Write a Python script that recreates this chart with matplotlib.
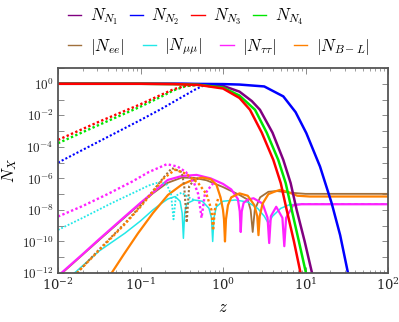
import numpy as np
import matplotlib
matplotlib.use("Agg")
import matplotlib.pyplot as plt
from matplotlib.lines import Line2D
from matplotlib.ticker import LogLocator, FuncFormatter, NullFormatter

plt.rcParams['mathtext.fontset'] = 'cm'
plt.rcParams['font.family'] = 'serif'
plt.rcParams['font.serif'] = ['DejaVu Serif']

# values, stored as log10(z), log10(N)
# heavy neutrino abundances, thermal initial abundance (solid)
n1_lz = [-2, -1, -0.5, -0.2, 0.0, 0.2, 0.35, 0.448, 0.6, 0.731, 0.82, 0.893, 0.99, 1.079]
n1_lN = [0, 0, -0.01, -0.05, -0.13, -0.5, -1.1, -1.65, -3.1, -4.83, -6.3, -8.0, -10.0, -12.0]
n2_lz = [-2, -0.5, 0.0, 0.2, 0.5, 0.731, 0.88, 1.01, 1.176, 1.317, 1.42, 1.515]
n2_lN = [0, 0, -0.02, -0.05, -0.17, -0.8, -1.8, -3.13, -5.25, -7.57, -9.6, -12.0]
n3_lz = [-2, -1, -0.6, -0.3, 0.0, 0.2, 0.327, 0.47, 0.61, 0.7, 0.772, 0.86, 0.94]
n3_lN = [0, 0, -0.02, -0.07, -0.3, -0.9, -1.65, -3.1, -4.83, -6.3, -8.0, -10.0, -12.0]
n4_lz = [-2, -1, -0.6, -0.3, 0.0, 0.2, 0.388, 0.53, 0.67, 0.76, 0.833, 0.92, 1.006]
n4_lN = [0, 0, -0.02, -0.06, -0.24, -0.75, -1.65, -3.1, -4.83, -6.3, -8.0, -10.0, -12.0]

# heavy neutrino abundances, zero initial abundance (dotted)
n3d_lz = [-2, -1.5, -1, -0.75, -0.6, -0.45, -0.3, -0.15]
n3d_lN = [-3.56, -2.4, -1.3, -0.7, -0.35, -0.12, -0.08, -0.15]
n4d_lz = [-2, -1.5, -1, -0.75, -0.6, -0.45, -0.3, -0.15]
n4d_lN = [-3.77, -2.6, -1.45, -0.82, -0.42, -0.15, -0.07, -0.13]
n2d_lz = [-2, -1.5, -1, -0.75, -0.5, -0.35, -0.24, -0.1, 0.0]
n2d_lN = [-5.0, -3.65, -2.3, -1.6, -0.85, -0.4, -0.12, -0.03, -0.02]

# flavour asymmetries, solid
ee_lz = [-1.96, -1.5, -1.19, -1.0, -0.85, -0.68, -0.5, -0.35, -0.2, 0.0, 0.2, 0.3, 0.335,
         0.36, 0.385, 0.45, 0.55, 0.65, 0.8, 1.0, 2.0]
ee_lN = [-12.05, -9.9, -8.47, -7.6, -6.95, -6.3, -5.95, -5.97, -6.12, -6.55, -7.05, -7.35, -8.0,
         -9.4, -8.0, -7.2, -6.85, -6.8, -6.9, -6.98, -6.98]
mm_lz = [-1.8, -1.5, -1.19, -1.0, -0.85, -0.75, -0.667, -0.58, -0.52, -0.495, -0.48, -0.465,
         -0.44, -0.35, -0.25, -0.17, -0.14, -0.125, -0.11, -0.08, 0.0, 0.15, 0.3, 0.42, 0.5,
         0.55, 0.6, 0.7, 0.8, 0.9, 2.0]
mm_lN = [-12.0, -10.6, -9.48, -8.7, -8.0, -7.6, -7.3, -7.15, -7.45, -8.2, -9.8, -8.2,
         -7.6, -7.37, -7.45, -7.9, -8.5, -10.0, -8.5, -7.8, -7.45, -7.37, -7.5, -7.9, -8.4,
         -8.85, -8.4, -7.9, -7.68, -7.64, -7.64]
tt_lz = [-1.96, -1.7, -1.5, -1.19, -1.0, -0.85, -0.67, -0.5, -0.32, -0.15, 0.0, 0.1, 0.18,
         0.203, 0.215, 0.227, 0.25, 0.3, 0.37, 0.48, 0.54, 0.56, 0.58, 0.645, 0.72, 0.743,
         0.765, 0.85, 0.95, 2.0]
tt_lN = [-12.0, -10.8, -9.85, -8.42, -7.55, -6.9, -6.1, -5.85, -5.78, -6.0, -6.35, -6.7, -7.3,
         -8.1, -9.4, -8.1, -7.55, -7.35, -7.26, -7.6, -8.5, -10.1, -8.4, -7.8, -8.5, -10.3,
         -8.5, -7.7, -7.64, -7.64]
bl_lz = [-1.35, -1.2, -1.03, -0.85, -0.667, -0.5, -0.35, -0.25, -0.15, -0.08, -0.03, 0.0,
         0.012, 0.024, 0.036, 0.06, 0.1, 0.2, 0.3, 0.38, 0.415, 0.43, 0.445, 0.48, 0.55,
         0.62, 0.69, 0.78, 0.9, 1.05, 2.0]
bl_lN = [-12.0, -10.8, -9.48, -8.2, -7.05, -6.4, -6.05, -5.95, -6.05, -6.4, -7.2, -8.0,
         -8.6, -10.0, -8.6, -7.7, -7.2, -6.95, -7.1, -7.7, -8.4, -9.6, -8.4, -7.6, -7.0,
         -6.85, -6.73, -6.85, -7.1, -7.15, -7.15]

# flavour asymmetries, dotted
eed_lz = [-1.77, -1.5, -1.19, -1.0, -0.85, -0.72, -0.62, -0.5, -0.47, -0.44, -0.41, -0.35, -0.3]
eed_lN = [-12.0, -10.5, -8.85, -7.75, -6.8, -5.95, -5.35, -5.6, -6.5, -8.8, -6.5, -6.1, -6.0]
mmd_lz = [-2, -1.7, -1.354, -1.1, -0.9, -0.76, -0.68, -0.63, -0.6, -0.57, -0.5, -0.42, -0.35]
mmd_lN = [-9.27, -8.5, -7.58, -6.95, -6.45, -6.22, -6.4, -7.0, -8.6, -7.1, -6.9, -7.2, -7.37]
ttd_lz = [-2, -1.7, -1.4, -1.1, -0.9, -0.68, -0.55, -0.45, -0.35, -0.3, -0.26, -0.22, -0.15, -0.1]
ttd_lN = [-8.42, -7.75, -7.0, -6.2, -5.6, -5.1, -5.25, -5.6, -6.3, -7.0, -8.5, -7.0, -6.5, -6.2]
bld_lz = [-1.77, -1.5, -1.19, -1.0, -0.85, -0.72, -0.58, -0.45, -0.3, -0.2, -0.14, -0.12,
          -0.1, -0.06, -0.03]
bld_lN = [-12.0, -10.55, -8.9, -7.8, -6.85, -6.0, -5.45, -5.7, -6.3, -7.0, -8.0, -9.3,
          -8.0, -7.3, -7.2]

purple = '#800080'
blue = '#0000ff'
red = '#ff0000'
green = '#00e600'
brown = '#a0703c'
cyan = '#22e8e8'
magenta = '#ff22ff'
orange = '#ff8000'

dots = (0, (1, 1))


def p(lz, lN):
    return np.power(10.0, lz), np.power(10.0, lN)


fig = plt.figure(figsize=(3.99, 3.22), dpi=100)
ax = fig.add_axes([58 / 399, 49 / 322, 330 / 399, 205 / 322])

# asymmetries
ax.plot(*p(ee_lz, ee_lN), color=brown, lw=1.3)
ax.plot(*p(mm_lz, mm_lN), color=cyan, lw=1.1)
ax.plot(*p(tt_lz, tt_lN), color=magenta, lw=1.6)
ax.plot(*p(bl_lz, bl_lN), color=orange, lw=1.6)
ax.plot(*p(eed_lz, eed_lN), color=brown, lw=1.5, ls=dots)
ax.plot(*p(mmd_lz, mmd_lN), color=cyan, lw=1.3, ls=dots)
ax.plot(*p(ttd_lz, ttd_lN), color=magenta, lw=1.7, ls=dots)
ax.plot(*p(bld_lz, bld_lN), color=orange, lw=1.7, ls=dots)
# magenta dotted riding on the late plateau
ax.plot(*p([0.95, 2.0], [-7.64, -7.64]), color=magenta, lw=1.2, ls=(0, (2, 2)))

# heavy neutrinos
ax.plot(*p(n2d_lz, n2d_lN), color=blue, lw=1.5, ls=dots)
ax.plot(*p(n4d_lz, n4d_lN), color=green, lw=1.7, ls=dots)
ax.plot(*p(n3d_lz, n3d_lN), color=red, lw=1.7, ls=dots)
ax.plot(*p(n1_lz, n1_lN), color=purple, lw=1.8)
ax.plot(*p(n2_lz, n2_lN), color=blue, lw=1.8)
ax.plot(*p(n4_lz, n4_lN), color=green, lw=1.8)
ax.plot(*p(n3_lz, n3_lN), color=red, lw=1.8)

ax.set_xscale('log')
ax.set_yscale('log')
ax.set_xlim(1e-2, 1e2)
ax.set_ylim(1e-12, 1e1)

ax.yaxis.set_major_locator(LogLocator(base=10, numticks=20))
ax.yaxis.set_minor_locator(LogLocator(base=10, subs=(), numticks=20))
ax.yaxis.set_major_formatter(FuncFormatter(
    lambda v, pos: r'$10^{%d}$' % round(np.log10(v)) if round(np.log10(v)) % 2 == 0 else ''))
ax.yaxis.set_minor_formatter(NullFormatter())

ax.tick_params(which='both', direction='in', top=True, right=True, colors='#777777',
               labelcolor='#222222', labelsize=9.5)
ax.tick_params(which='major', length=4, width=0.6, pad=3)
ax.tick_params(which='minor', length=2, width=0.5)
for s in ax.spines.values():
    s.set_color('#555555')
    s.set_linewidth(1.3)

ax.set_xlabel(r'$z$', fontsize=12)
ax.set_ylabel(r'$N_X$', fontsize=12)
ax.xaxis.set_label_coords(0.5, -0.125)
ax.yaxis.set_label_coords(-0.118, 0.5)

h1 = [Line2D([], [], color=c, lw=1) for c in [purple, blue, red, green]]
l1 = [r'$N_{N_1}$', r'$N_{N_2}$', r'$N_{N_3}$', r'$N_{N_4}$']
h2 = [Line2D([], [], color=c, lw=1) for c in [brown, cyan, magenta, orange]]
l2 = [r'$|N_{ee}|$', r'$|N_{\mu\mu}|$', r'$|N_{\tau\tau}|$', r'$|N_{B-L}|$']

leg1 = fig.legend(h1, l1, loc='center left', bbox_to_anchor=(68 / 399, 1 - 17 / 322),
                  ncol=4, frameon=False, fontsize=12, handlelength=0.8, handletextpad=0.5,
                  columnspacing=0.7, borderpad=0, borderaxespad=0)
leg2 = fig.legend(h2, l2, loc='center left', bbox_to_anchor=(68 / 399, 1 - 47 / 322),
                  ncol=4, frameon=False, fontsize=12, handlelength=0.8, handletextpad=0.5,
                  columnspacing=1.1, borderpad=0, borderaxespad=0)

fig.savefig('out.png', dpi=100)
